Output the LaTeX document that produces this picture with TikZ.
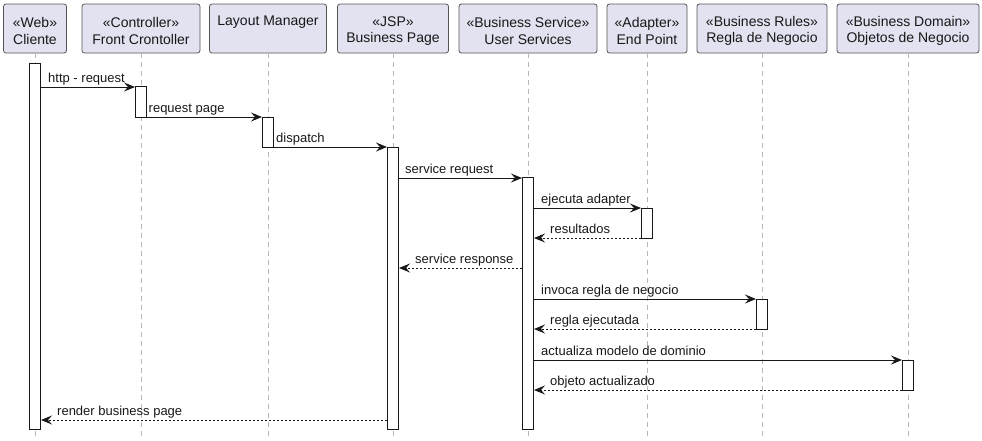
\documentclass[tikz,border=0pt]{standalone}
\usepackage{fontspec}
\setmainfont{Liberation Sans}
\usetikzlibrary{arrows.meta}
\definecolor{hdrfill}{HTML}{E2E2F0}
\definecolor{ink}{HTML}{181818}
\definecolor{hdrline}{HTML}{555555}
\definecolor{lifegray}{HTML}{B8B8B8}
\tikzset{
  hdr/.style={draw=hdrline, fill=hdrfill, rounded corners=2.5pt, minimum height=49pt,
    inner sep=0pt, line width=0.8pt},
  hdrtext/.style={inner sep=0pt, align=center, text=ink, font=\fontsize{14}{16.3}\selectfont},
  life/.style={draw=lifegray, line width=1pt, dash pattern=on 5pt off 4pt},
  act/.style={draw=ink, fill=white, minimum width=11pt, inner sep=0pt, line width=1pt},
  msg/.style={draw=ink, line width=1pt, -{Stealth[length=11pt,width=9pt,inset=4pt]}},
  ret/.style={msg, dash pattern=on 2pt off 2pt},
  lbl/.style={anchor=base west, inner sep=0pt, text=ink, font=\fontsize{13}{15}\selectfont}
}
\begin{document}
\begin{tikzpicture}[x=1pt,y=-1pt]
\useasboundingbox (0,0) rectangle (982,440);
\coordinate (bot) at (0,440);
% headers
\node[hdr, minimum width=63pt]  (hc) at (35,28.5)  {};
\node[hdr, minimum width=118pt] (hf) at (141,28.5) {};
\node[hdr, minimum width=117pt] (hl) at (268,28.5) {};
\node[hdr, minimum width=111pt] (hb) at (393,28.5) {};
\node[hdr, minimum width=138pt] (hu) at (528,28.5) {};
\node[hdr, minimum width=80pt]  (ha) at (647,28.5) {};
\node[hdr, minimum width=130pt] (hr) at (762,28.5) {};
\node[hdr, minimum width=142pt] (ho) at (908,28.5) {};
\node[hdrtext] (hct) at ([yshift=-2.5pt]hc.center) {«Web»\\Cliente};
\node[hdrtext] (hft) at ([yshift=-2.5pt]hf.center) {«Controller»\\Front Crontoller};
\node[hdrtext] (hlt) at ([yshift=6.2pt]hl.center) {Layout Manager};
\node[hdrtext] (hbt) at ([yshift=-2.5pt]hb.center) {«JSP»\\Business Page};
\node[hdrtext] (hut) at ([yshift=-2.5pt]hu.center) {«Business Service»\\User Services};
\node[hdrtext] (hat) at ([yshift=-2.5pt]ha.center) {«Adapter»\\End Point};
\node[hdrtext] (hrt) at ([yshift=-2.5pt]hr.center) {«Business Rules»\\Regla de Negocio};
\node[hdrtext] (hot) at ([yshift=-2.5pt]ho.center) {«Business Domain»\\Objetos de Negocio};
% lifelines
\foreach \h in {hc,hf,hl,hb,hu,ha,hr,ho}
  \draw[life] (\h.south) -- (\h.south |- bot);
% activation bars
\node[act, minimum height=366pt] (cb) at (35,246) {};
\node[act, minimum height=31pt]  (fb) at (141,101.5) {};
\node[act, minimum height=30pt]  (lb) at (268,132) {};
\node[act, minimum height=282pt] (bb) at (393,288) {};
\node[act, minimum height=252pt] (ub) at (528,303) {};
\node[act, minimum height=30pt]  (ab) at (647,223) {};
\node[act, minimum height=30pt]  (rb) at (762,314) {};
\node[act, minimum height=30pt]  (ob) at (908,375) {};
% message heights
\coordinate (m1) at (0,87);
\coordinate (m2) at (0,117);
\coordinate (m3) at (0,147);
\coordinate (m4) at (0,178);
\coordinate (m5) at (0,208);
\coordinate (m6) at (0,238);
\coordinate (m7) at (0,268);
\coordinate (m8) at (0,299);
\coordinate (m9) at (0,329);
\coordinate (m10) at (0,360);
\coordinate (m11) at (0,390);
\coordinate (m12) at (0,420);
% messages
\draw[msg] (cb.east |- m1) -- (fb.west |- m1);
\node[lbl] (t1) at (48,82) {http - request};
\draw[msg] (fb.east |- m2) -- (lb.west |- m2);
\node[lbl] (t2) at (148.5,112) {request page};
\draw[msg] (lb.east |- m3) -- (bb.west |- m3);
\node[lbl] (t3) at (276,142) {dispatch};
\draw[msg] (bb.east |- m4) -- (ub.west |- m4);
\node[lbl] (t4) at (405,173) {service request};
\draw[msg] (ub.east |- m5) -- (ab.west |- m5);
\node[lbl] (t5) at (541,203) {ejecuta adapter};
\draw[ret] (ab.west |- m6) -- (ub.east |- m6);
\node[lbl] (t6) at (550,233) {resultados};
\draw[ret] (ub.west |- m7) -- (bb.east |- m7);
\node[lbl] (t7) at (415,263) {service response};
\draw[msg] (ub.east |- m8) -- (rb.west |- m8);
\node[lbl] (t8) at (541,294) {invoca regla de negocio};
\draw[ret] (rb.west |- m9) -- (ub.east |- m9);
\node[lbl] (t9) at (550,324) {regla ejecutada};
\draw[msg] (ub.east |- m10) -- (ob.west |- m10);
\node[lbl] (t10) at (541,355) {actualiza modelo de dominio};
\draw[ret] (ob.west |- m11) -- (ub.east |- m11);
\node[lbl] (t11) at (550,385) {objeto actualizado};
\draw[ret] (bb.west |- m12) -- (cb.east |- m12);
\node[lbl] (t12) at (57,415) {render business page};
\end{tikzpicture}
\end{document}
